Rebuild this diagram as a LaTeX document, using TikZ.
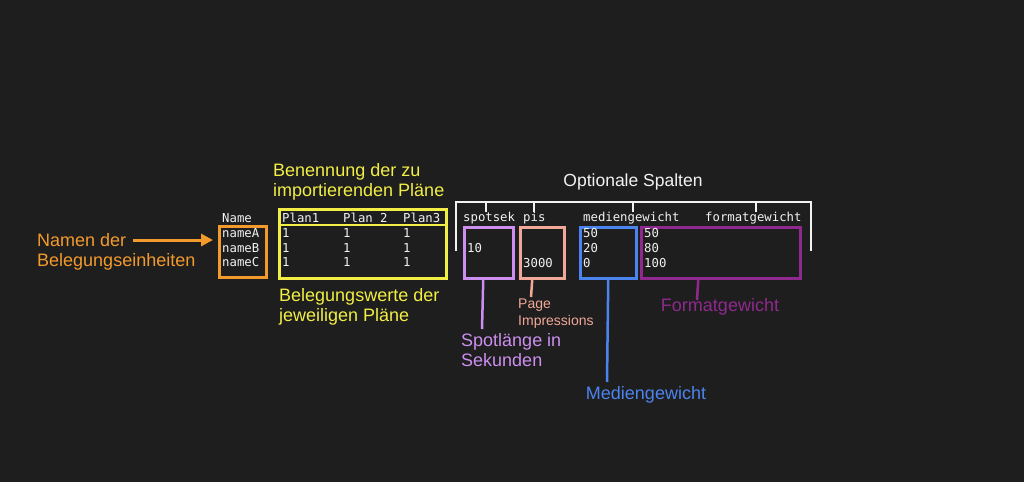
\documentclass[tikz,border=0pt]{standalone}
\usepackage{fontspec}
\setmainfont{Liberation Sans}
\newfontfamily\monofont{DejaVu Sans Mono}
\usetikzlibrary{arrows.meta}
\definecolor{bgc}{HTML}{1E1E1E}
\definecolor{wc}{HTML}{F2F2F2}
\definecolor{orc}{HTML}{F39A2C}
\definecolor{yec}{HTML}{F2EE45}
\definecolor{vic}{HTML}{CC8EEF}
\definecolor{sac}{HTML}{F2A898}
\definecolor{blc}{HTML}{4C84EF}
\definecolor{puc}{HTML}{90298F}
\tikzset{
  mono/.style={font=\monofont\fontsize{12.3}{15}\selectfont, text=wc, anchor=west, inner sep=0pt},
  lbl/.style={font=\fontsize{18}{20}\selectfont, anchor=west, inner sep=0pt, align=left},
  smalllbl/.style={font=\fontsize{14}{17}\selectfont, anchor=west, inner sep=0pt, align=left},
  boxx/.style={line width=2.5pt, anchor=north west, inner sep=0pt},
  conn/.style={line width=2.5pt},
}
\begin{document}
\begin{tikzpicture}[x=1pt,y=-1pt]
\fill[bgc] (0,0) rectangle (1024,482);
\useasboundingbox (0,0) rectangle (1024,482);

% boxes
\node[boxx, draw=orc, minimum width=47pt, minimum height=51pt] (obox) at (218,225) {};
\node[boxx, draw=yec, minimum width=167pt, minimum height=69pt] (ybox) at (278,208) {};
\draw[yec, line width=2.5pt] (ybox.west |- 0,225) -- (ybox.east |- 0,225);
\node[boxx, draw=vic, minimum width=49pt, minimum height=51pt] (vbox) at (463,226) {};
\node[boxx, draw=sac, minimum width=44pt, minimum height=51pt] (sbox) at (519,226) {};
\node[boxx, draw=blc, minimum width=56pt, minimum height=51pt] (bbox) at (579,226) {};
\node[boxx, draw=puc, minimum width=159pt, minimum height=51pt] (pbox) at (640,226) {};

% name column
\node[mono] (hname) at (222,218) {Name};
\node[mono] (na) at (222,233) {nameA};
\node[mono] (nb) at (222,248) {nameB};
\node[mono] (nc) at (222,262) {nameC};

% plans
\node[mono] (p1) at (282,218) {Plan1};
\node[mono] (p2) at (343,218) {Plan 2};
\node[mono] (p3) at (403,218) {Plan3};
\node[mono] (a1) at (282,233) {1};
\node[mono] (a2) at (343,233) {1};
\node[mono] (a3) at (403,233) {1};
\node[mono] (b1) at (282,248) {1};
\node[mono] (b2) at (343,248) {1};
\node[mono] (b3) at (403,248) {1};
\node[mono] (c1) at (282,262) {1};
\node[mono] (c2) at (343,262) {1};
\node[mono] (c3) at (403,262) {1};

% optional columns
\node[mono] (hspot) at (463,218) {spotsek};
\node[mono] (hpis) at (523,218) {pis};
\node[mono] (hmed) at (583,218) {mediengewicht};
\node[mono] (hfmt) at (705,218) {formatgewicht};
\node[mono] (v10) at (467,248) {10};
\node[mono] (v3000) at (523,263) {3000};
\node[mono] (m1) at (583,233) {50};
\node[mono] (m2) at (583,248) {20};
\node[mono] (m3) at (583,263) {0};
\node[mono] (f1) at (644,233) {50};
\node[mono] (f2) at (644,248) {80};
\node[mono] (f3) at (644,263) {100};

% bracket
\draw[wc, line width=2pt] (456,251) -- (456,202) -- (811,202) -- (811,251);
\foreach \tx in {486,534,633,756} \draw[wc, line width=2pt] (\tx,202) -- (\tx,212);
\node[font=\fontsize{17.5}{20}\selectfont, text=wc, inner sep=0pt] (opt) at (633,182) {Optionale Spalten};

% labels
\node[lbl, text=yec] (benenn) at (273,182) {Benennung der zu\\importierenden Pläne};
\node[lbl, text=yec] (beleg) at (279,307) {Belegungswerte der\\jeweiligen Pläne};
\node[lbl, text=orc] (namen) at (37,251.5) {Namen der\\Belegungseinheiten};
\coordinate (arrs) at (133,240);
\draw[orc, line width=3pt, -{Triangle[length=12pt,width=12pt]}, shorten >=5pt] (arrs) -- (obox.west |- arrs);

\node[lbl, text=vic] (spotl) at (461,350.5) {Spotlänge in\\Sekunden};
\coordinate (ve) at (482,329);
\draw[conn, vic] ([xshift=-5.5pt]vbox.south) -- (ve);

\node[smalllbl, text=sac] (pageimp) at (518,313.5) {Page\\Impressions};
\coordinate (se) at (531,297);
\draw[conn, sac] ([xshift=-10pt]sbox.south) -- (se);

\node[font=\fontsize{18}{20}\selectfont, text=blc, inner sep=0pt] (medl) at (646,395) {Mediengewicht};
\coordinate (be) at (607,382);
\draw[conn, blc] (bbox.south) -- (be);

\node[font=\fontsize{18}{20}\selectfont, text=puc, inner sep=0pt] (fmtl) at (720,307) {Formatgewicht};
\coordinate (pe) at (697,300);
\draw[conn, puc] ([xshift=-22.5pt]pbox.south) -- (pe);
\end{tikzpicture}
\end{document}
